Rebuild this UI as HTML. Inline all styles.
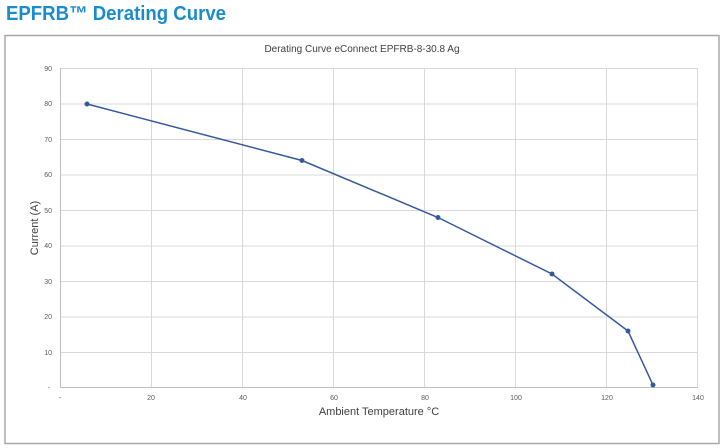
<!DOCTYPE html>
<html><head><style>
body{margin:0;width:724px;height:448px;background:#fff;overflow:hidden;font-family:"Liberation Sans",sans-serif;}
</style></head><body>
<svg width="724" height="448" xmlns="http://www.w3.org/2000/svg" style="position:absolute;left:0;top:0">
<text x="6" y="20" font-family="Liberation Sans" font-weight="bold" font-size="20" fill="#1a8ccc" textLength="220" lengthAdjust="spacingAndGlyphs">EPFRB™ Derating Curve</text>
<rect x="5" y="35.5" width="714" height="408" fill="#fff" stroke="#a8a8a8" stroke-width="1.5"/>
<text x="362" y="52" text-anchor="middle" font-size="10" fill="#404040">Derating Curve eConnect EPFRB-8-30.8 Ag</text>
<g stroke="#d9d9d9" stroke-width="1">
<line x1="60" y1="68.5" x2="698" y2="68.5"/>
<line x1="60" y1="104" x2="698" y2="104"/>
<line x1="60" y1="139.5" x2="698" y2="139.5"/>
<line x1="60" y1="175" x2="698" y2="175"/>
<line x1="60" y1="210.5" x2="698" y2="210.5"/>
<line x1="60" y1="246" x2="698" y2="246"/>
<line x1="60" y1="281.5" x2="698" y2="281.5"/>
<line x1="60" y1="317" x2="698" y2="317"/>
<line x1="60" y1="352.5" x2="698" y2="352.5"/>
<line x1="151.5" y1="68" x2="151.5" y2="387"/>
<line x1="242.5" y1="68" x2="242.5" y2="387"/>
<line x1="333.5" y1="68" x2="333.5" y2="387"/>
<line x1="424.5" y1="68" x2="424.5" y2="387"/>
<line x1="515.5" y1="68" x2="515.5" y2="387"/>
<line x1="606.5" y1="68" x2="606.5" y2="387"/>
<line x1="697.5" y1="68" x2="697.5" y2="387"/>
</g>
<line x1="60.5" y1="68" x2="60.5" y2="388" stroke="#bfbfbf"/>
<line x1="60" y1="387.5" x2="698" y2="387.5" stroke="#bfbfbf"/>
<g font-size="7" fill="#595959" text-anchor="end">
<text x="52" y="71">90</text><text x="52" y="106">80</text><text x="52" y="142">70</text>
<text x="52" y="177">60</text><text x="52" y="213">50</text><text x="52" y="248">40</text>
<text x="52" y="284">30</text><text x="52" y="319">20</text><text x="52" y="355">10</text>
<text x="50" y="390">-</text>
</g>
<g font-size="7" fill="#595959" text-anchor="middle">
<text x="60" y="400">-</text><text x="151" y="400">20</text><text x="243" y="400">40</text>
<text x="334" y="400">60</text><text x="425" y="400">80</text><text x="516" y="400">100</text>
<text x="607" y="400">120</text><text x="698" y="400">140</text>
</g>
<text x="379" y="415" text-anchor="middle" font-size="11" fill="#404040">Ambient Temperature °C</text>
<text transform="translate(38,228) rotate(-90)" text-anchor="middle" font-size="11" fill="#404040">Current (A)</text>
<polyline points="87,104 302,160.5 438,217.5 552,274 628,331 653,385" fill="none" stroke="#35599a" stroke-width="1.5"/>
<g fill="#35599a">
<circle cx="87" cy="104" r="2.5"/><circle cx="302" cy="160.5" r="2.5"/><circle cx="438" cy="217.5" r="2.5"/>
<circle cx="552" cy="274" r="2.5"/><circle cx="628" cy="331" r="2.5"/><circle cx="653" cy="385" r="2.5"/>
</g>
</svg>
</body></html>
